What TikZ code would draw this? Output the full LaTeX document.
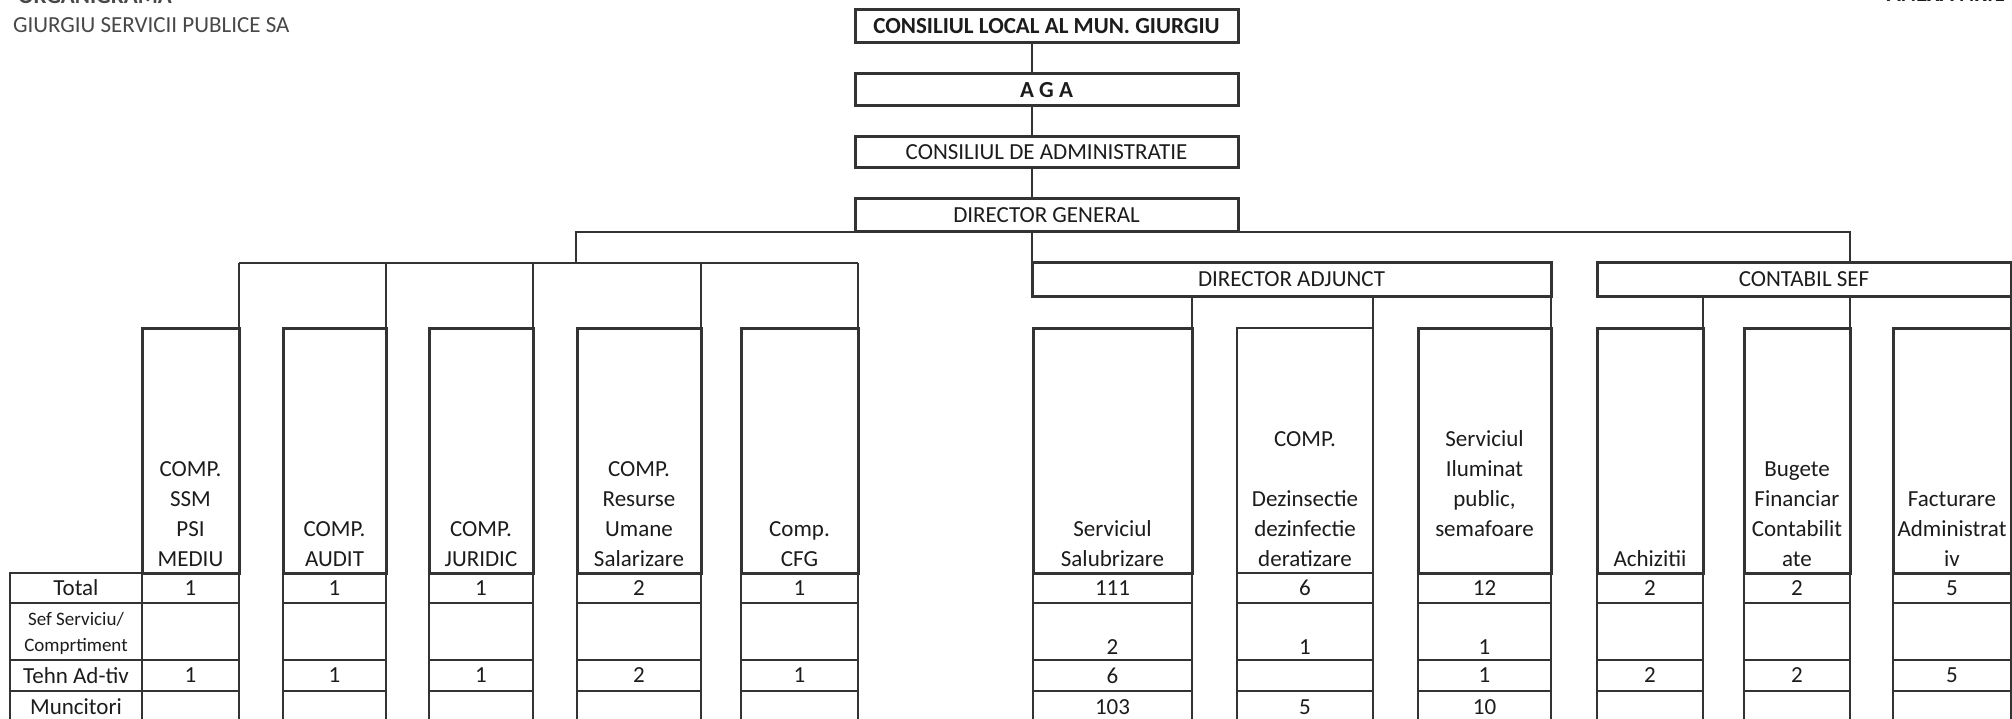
\documentclass[tikz,border=0pt]{standalone}
\usepackage{fontspec}
\setmainfont{Carlito}
\definecolor{ln}{HTML}{333333}
\definecolor{txt}{HTML}{1C1C1C}
\definecolor{greytxt}{HTML}{484848}
\begin{document}
\begin{tikzpicture}[x=1pt,y=-1pt,
  every node/.style={font=\fontsize{23}{30}\selectfont, text=txt, inner sep=0pt, outer sep=0pt},
  topbox/.style={draw=ln, line width=3pt, rectangle, anchor=north west, minimum width=383pt},
  hbox/.style={draw=ln, line width=3pt, rectangle, anchor=north west, minimum height=245pt},
  hboxthin/.style={draw=ln, line width=1.5pt, rectangle, anchor=north west, minimum height=245pt},
  htext/.style={anchor=south, align=center, text depth=0pt},
  conn/.style={draw=ln, line width=1.5pt},
  cell/.style={draw=ln, line width=1.5pt},
  small/.style={font=\fontsize{19}{26}\selectfont}
]
\fill[white] (0,0) rectangle (2012,719);
\useasboundingbox (0,0) rectangle (2012,719);

% header texts
\node[anchor=base west, text=greytxt, font=\fontsize{23}{28}\selectfont\bfseries] (title) at (18,4) {ORGANIGRAMA};
\node[anchor=base west, text=greytxt] (firm) at (13,33) {GIURGIU SERVICII PUBLICE SA};
\node[anchor=base east, font=\fontsize{23}{28}\selectfont\bfseries] (anexa) at (2005,1.5) {ANEXA NR.1};

% top chain
\node[topbox, minimum height=33pt] (CL) at (855,10) {\bfseries CONSILIUL LOCAL AL MUN. GIURGIU};
\node[topbox, minimum height=32pt] (AGA) at (855,74) {\bfseries A G A};
\node[topbox, minimum height=31pt] (CA) at (855,137) {CONSILIUL DE ADMINISTRATIE};
\node[topbox, minimum height=33pt] (DG) at (855,199) {DIRECTOR GENERAL};

\node[draw=ln, line width=3pt, anchor=north west, minimum width=519pt, minimum height=33pt] (DA) at (1032,263) {DIRECTOR ADJUNCT};
\node[draw=ln, line width=3pt, anchor=north west, minimum width=414pt, minimum height=33pt] (CS) at (1597,263) {CONTABIL SEF};

% table cells (drawn before header boxes)
\foreach \n/\a/\b/\t/\s/\e/\m in {
  1/142/239/1/{}/1/{},
  2/283/386/1/{}/1/{},
  3/429/533/1/{}/1/{},
  4/577/701/2/{}/2/{},
  5/741/858/1/{}/1/{},
  6/1033/1192/111/2/6/103,
  7/1237/1373/6/1/{}/5,
  8/1418/1551/12/1/1/10,
  9/1597/1703/2/{}/2/{},
  10/1744/1850/2/{}/2/{},
  11/1893/2011/5/{}/5/{}}{
  \draw[cell] (\a,573) rectangle (\b,603);
  \draw[cell] (\a,603) rectangle (\b,660);
  \draw[cell] (\a,660) rectangle (\b,691);
  \draw[cell] (\a,691) rectangle (\b,725);
  \node (t\n) at ({(\a+\b)/2},588) {\t};
  \node (s\n) at ({(\a+\b)/2},647) {\s};
  \node (e\n) at ({(\a+\b)/2},675.5) {\e};
  \node (m\n) at ({(\a+\b)/2},707) {\m};
}
% label column
\draw[cell] (10,573) rectangle (142,603);
\draw[cell] (10,603) rectangle (142,660);
\draw[cell] (10,660) rectangle (142,691);
\draw[cell] (10,691) rectangle (142,725);
\node (lTotal) at (76,588) {Total};
\node[small, align=center] (lSef) at (76,633) {Sef Serviciu/\\Comprtiment};
\node (lTehn) at (76,675.5) {Tehn Ad-tiv};
\node (lMunc) at (76,707) {Muncitori};

% header boxes
\node[hbox, minimum width=97pt] (h1) at (142,328) {};
\node[hbox, minimum width=103pt] (h2) at (283,328) {};
\node[hbox, minimum width=104pt] (h3) at (429,328) {};
\node[hbox, minimum width=124pt] (h4) at (577,328) {};
\node[hbox, minimum width=117pt] (h5) at (741,328) {};
\node[hbox, minimum width=159pt] (h6) at (1033,328) {};
\node[hboxthin, minimum width=136pt] (h7) at (1237,328) {};
\node[hbox, minimum width=133pt] (h8) at (1418,328) {};
\node[hbox, minimum width=106pt] (h9) at (1597,328) {};
\node[hbox, minimum width=106pt] (h10) at (1744,328) {};
\node[hbox, minimum width=118pt] (h11) at (1893,328) {};

\node[htext] (x1) at ([yshift=7pt]h1.south) {COMP.\\SSM\\PSI\\MEDIU};
\node[htext] (x2) at ([yshift=7pt]h2.south) {COMP.\\AUDIT};
\node[htext] (x3) at ([yshift=7pt]h3.south) {COMP.\\JURIDIC};
\node[htext] (x4) at ([yshift=7pt]h4.south) {COMP.\\Resurse\\Umane\\Salarizare};
\node[htext] (x5) at ([yshift=7pt]h5.south) {Comp.\\CFG};
\node[htext] (x6) at ([yshift=7pt]h6.south) {Serviciul\\Salubrizare};
\node[htext] (x7) at ([yshift=7pt]h7.south) {COMP.\\[30pt]Dezinsectie\\dezinfectie\\deratizare};
\node[htext] (x8) at ([yshift=37pt]h8.south) {Serviciul\\Iluminat\\public,\\semafoare};
\node[htext] (x9) at ([yshift=7pt]h9.south) {Achizitii};
\node[htext] (x10) at ([yshift=7pt]h10.south) {Bugete\\Financiar\\Contabilit\\ate};
\node[htext] (x11) at ([yshift=7pt]h11.south) {Facturare\\Administrat\\iv};

% connectors
\coordinate (spine) at (1032,0);
\coordinate (bar) at (0,263);
\coordinate (jL) at (576,232);
\draw[conn] (CL.south -| spine) -- (AGA.north -| spine);
\draw[conn] (AGA.south -| spine) -- (CA.north -| spine);
\draw[conn] (CA.south -| spine) -- (DG.north -| spine);
\draw[conn] (DG.south -| spine) -- (DA.north west);
\draw[conn] (DG.south west) -- (jL) -- (jL |- bar);
\draw[conn] (DG.south east) -- (h10.north east |- DG.south) -- (h10.north east |- CS.north);
\draw[conn] (h1.north east |- bar) -- (h5.north east |- bar);
\foreach \h in {h1,h2,h3,h4,h5}
  \draw[conn] (\h.north east |- bar) -- (\h.north east);
\foreach \h in {h6,h7,h8}
  \draw[conn] (DA.south -| \h.north east) -- (\h.north east);
\foreach \h in {h9,h10,h11}
  \draw[conn] (CS.south -| \h.north east) -- (\h.north east);
\end{tikzpicture}
\end{document}
